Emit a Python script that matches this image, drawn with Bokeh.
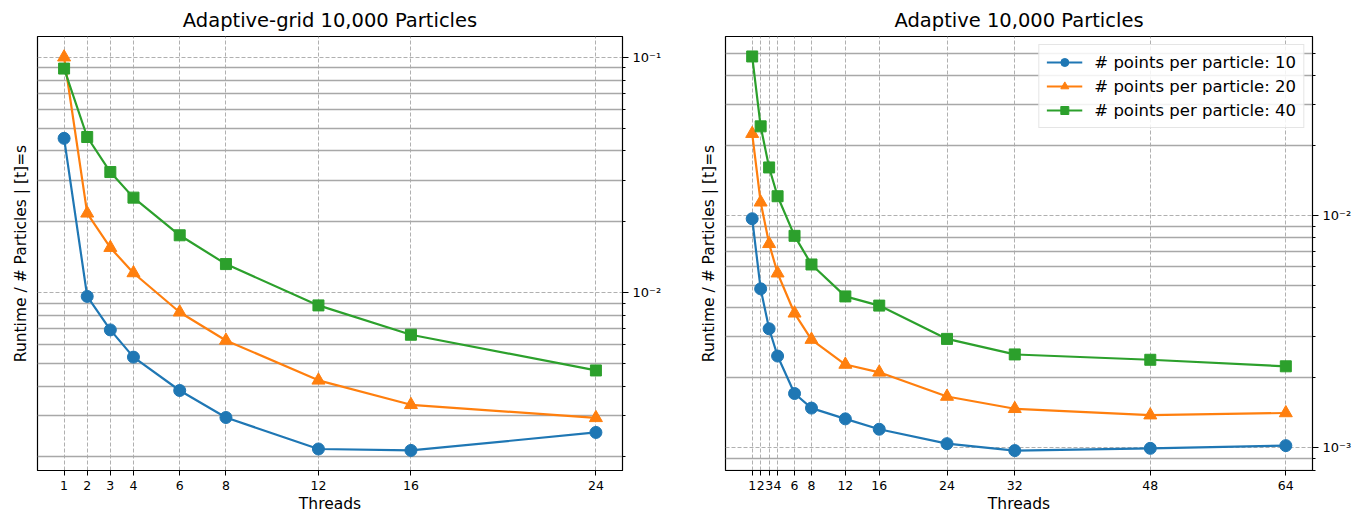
from bokeh.plotting import figure
from bokeh.layouts import row
from bokeh.models import FixedTicker, LogAxis, CustomJSTickFormatter, Range1d
from bokeh.embed import file_html
from bokeh.resources import INLINE

# ---------------- data ----------------
threads_left = [1, 2, 3, 4, 6, 8, 12, 16, 24]
left_pts10 = [0.0452, 0.00962, 0.00693, 0.00531, 0.00383, 0.00294, 0.00216, 0.00213, 0.00254]
left_pts20 = [0.100, 0.0217, 0.0155, 0.0121, 0.00824, 0.00625, 0.00423, 0.00333, 0.00293]
left_pts40 = [0.0895, 0.0458, 0.0325, 0.0253, 0.0175, 0.0132, 0.00881, 0.00661, 0.00466]

threads_right = [1, 2, 3, 4, 6, 8, 12, 16, 24, 32, 48, 64]
right_pts10 = [0.00968, 0.00483, 0.00325, 0.00248, 0.00171, 0.00148, 0.00133, 0.00120,
               0.00104, 0.000971, 0.000993, 0.00102]
right_pts20 = [0.0225, 0.0114, 0.00755, 0.00564, 0.00379, 0.00292, 0.00228, 0.00211,
               0.00166, 0.00147, 0.00138, 0.00141]
right_pts40 = [0.0484, 0.0242, 0.0161, 0.0121, 0.00817, 0.00615, 0.00448, 0.00409,
               0.00294, 0.00252, 0.00239, 0.00224]

series_labels = ["# points per particle: 10", "# points per particle: 20", "# points per particle: 40"]
titles = ["Adaptive-grid 10,000 Particles", "Adaptive 10,000 Particles"]
x_title = "Threads"
y_title = "Runtime / # Particles | [t]=s"

# ---------------- styles ----------------
FONT = "DejaVu Sans"
COLORS = ["#1f77b4", "#ff7f0e", "#2ca02c"]
MARKERS = ["circle", "triangle", "square"]
MSIZES = [12, 13, 11]

major_y = [1e-4, 1e-3, 1e-2, 1e-1, 1.0]
minor_y = [k * 10.0 ** e for e in (-4, -3, -2, -1) for k in range(2, 10)]

sup_fmt = CustomJSTickFormatter(code="""
const sup = {'-':'\u207b','0':'\u2070','1':'\u00b9','2':'\u00b2','3':'\u00b3','4':'\u2074',
             '5':'\u2075','6':'\u2076','7':'\u2077','8':'\u2078','9':'\u2079'};
const e = Math.round(Math.log10(tick));
return '10' + String(e).split('').map(c => sup[c]).join('');
""")


def make(title, xs, series, xticks, xr, yr, w, bl, br, legend):
    p = figure(width=w, height=516, output_backend="svg", toolbar_location=None,
               y_axis_type="log", y_axis_location="right",
               x_range=Range1d(*xr), y_range=Range1d(*yr),
               min_border_left=bl, min_border_right=br,
               min_border_top=36, min_border_bottom=46, title=title)
    p.background_fill_color = "white"
    p.border_fill_color = "white"
    p.outline_line_color = "black"
    p.outline_line_width = 1.2

    p.title.text_font = FONT
    p.title.text_font_size = "19.5px"
    p.title.text_font_style = "normal"
    p.title.text_color = "black"
    p.title.align = "center"
    p.title.standoff = 9

    yt = FixedTicker(ticks=major_y, minor_ticks=minor_y)
    yax = p.yaxis[0]
    yax.ticker = yt
    yax.formatter = sup_fmt
    yax.major_tick_out = 6
    yax.major_tick_in = 0
    yax.minor_tick_out = 3
    yax.minor_tick_in = 0
    yax.major_label_standoff = 4
    yax.major_label_text_font = FONT
    yax.major_label_text_font_size = "13px"
    yax.major_label_text_color = "black"
    yax.axis_line_color = "black"
    yax.major_tick_line_color = "black"
    yax.minor_tick_line_color = "black"

    xt = FixedTicker(ticks=xticks)
    xax = p.xaxis[0]
    xax.ticker = xt
    xax.axis_label = x_title
    xax.axis_label_text_font = FONT
    xax.axis_label_text_font_size = "15.5px"
    xax.axis_label_text_font_style = "normal"
    xax.axis_label_text_color = "black"
    xax.axis_label_standoff = 2
    xax.major_label_text_font = FONT
    xax.major_label_text_font_size = "12.5px"
    xax.major_label_text_color = "black"
    xax.major_label_standoff = 5
    xax.major_tick_out = 5
    xax.major_tick_in = 0
    xax.minor_tick_out = 0
    xax.minor_tick_in = 0
    xax.axis_line_color = "black"
    xax.major_tick_line_color = "black"

    p.xgrid.ticker = xt
    p.xgrid.grid_line_color = "#b0b0b0"
    p.xgrid.grid_line_dash = "4 2"
    p.xgrid.grid_line_width = 1

    p.ygrid.ticker = yt
    p.ygrid.grid_line_color = "#b0b0b0"
    p.ygrid.grid_line_dash = "4 2"
    p.ygrid.grid_line_width = 1
    p.ygrid.minor_grid_line_color = "#a8a8a8"
    p.ygrid.minor_grid_line_width = 1.6

    lax = LogAxis(axis_label=y_title, ticker=FixedTicker(ticks=[]),
                  major_tick_out=0, major_tick_in=0, minor_tick_out=0, minor_tick_in=0,
                  major_label_standoff=0, axis_line_color=None,
                  axis_label_standoff=8, axis_label_text_font=FONT,
                  axis_label_text_color="black",
                  axis_label_text_font_size="15.5px", axis_label_text_font_style="normal")
    p.add_layout(lax, "left")

    for ys, lab, c, m, s in zip(series, series_labels, COLORS, MARKERS, MSIZES):
        kw = {"legend_label": lab} if legend else {}
        p.line(xs, ys, line_color=c, line_width=2.2, **kw)
        p.scatter(xs, ys, marker=m, size=s, fill_color=c, line_color=c, **kw)

    if legend:
        lg = p.legend[0]
        lg.location = "top_right"
        lg.margin = 8
        lg.padding = 7
        lg.spacing = 4
        lg.label_text_font = FONT
        lg.label_text_font_size = "16.5px"
        lg.label_text_color = "black"
        lg.label_standoff = 12
        lg.glyph_width = 36
        lg.glyph_height = 20
        lg.label_height = 20
        lg.border_line_color = "#cccccc"
        lg.border_line_width = 1
        lg.background_fill_alpha = 0.85
    return p


p1 = make(titles[0], threads_left, [left_pts10, left_pts20, left_pts40],
          threads_left, (-0.15, 25.15), (0.00175, 0.1225), 680, 37, 58, False)
p2 = make(titles[1], threads_right, [right_pts10, right_pts20, right_pts40],
          threads_right, (-2.15, 67.15), (0.000797, 0.059), 680, 45, 48, True)

layout = row(p1, p2)
open("out.html", "w").write(file_html(layout, INLINE))
